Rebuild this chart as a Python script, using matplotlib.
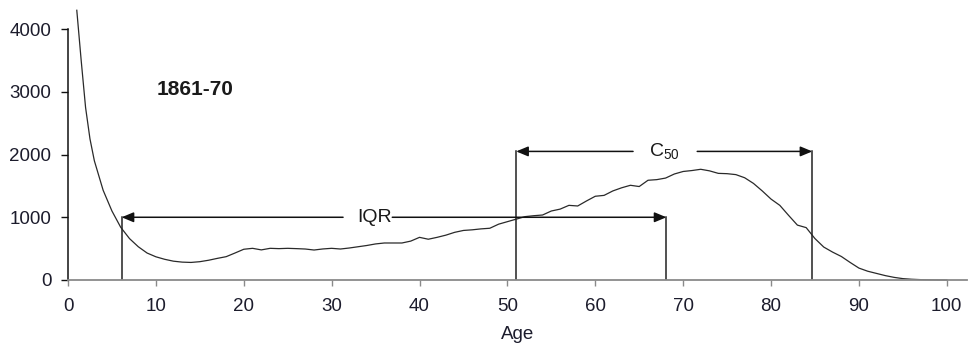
import matplotlib
matplotlib.use("Agg")
import matplotlib.pyplot as plt

plt.rcParams['font.family'] = ['Liberation Sans', 'DejaVu Sans']
plt.rcParams['mathtext.default'] = 'regular'

# Distribution of deaths by age, 1861-70
ages = [1, 1.5, 2, 2.5, 3, 4, 5, 6, 7, 8, 9, 10, 11, 12, 13, 14, 15, 16, 17, 18,
        19, 20, 21, 22, 23, 24, 25, 26, 27, 28, 29, 30, 31, 32, 33, 34, 35, 36,
        37, 38, 39, 40, 41, 42, 43, 44, 45, 46, 47, 48, 49, 50, 51, 52, 53, 54,
        55, 56, 57, 58, 59, 60, 61, 62, 63, 64, 65, 66, 67, 68, 69, 70, 71, 72,
        73, 74, 75, 76, 77, 78, 79, 80, 81, 82, 83, 84, 85, 86, 87, 88, 89, 90,
        91, 92, 93, 94, 95, 96, 97, 98, 99, 100]
deaths = [4300, 3500, 2750, 2250, 1900, 1430, 1100, 840, 660, 530, 430, 370, 330,
          300, 285, 280, 292, 315, 345, 372, 430, 490, 505, 480, 505, 500, 505,
          500, 494, 478, 495, 505, 494, 510, 530, 550, 575, 590, 590, 590, 620,
          680, 650, 680, 715, 760, 790, 800, 815, 825, 890, 930, 970, 1010, 1025,
          1036, 1100, 1130, 1190, 1180, 1260, 1335, 1349, 1420, 1470, 1510, 1490,
          1590, 1600, 1625, 1690, 1730, 1745, 1765, 1740, 1700, 1695, 1680, 1630,
          1540, 1420, 1290, 1190, 1030, 875, 835, 660, 525, 445, 375, 280, 190,
          140, 105, 70, 42, 22, 12, 6, 3, 1, 0]

period_label = "1861-70"
x_ticks = [0, 10, 20, 30, 40, 50, 60, 70, 80, 90, 100]
y_ticks = [0, 1000, 2000, 3000, 4000]

# Interquartile range and C50 bounds (ages) with their bracket heights
iqr_lo, iqr_hi, iqr_level = 6.1, 68.1, 1000
c50_lo, c50_hi, c50_level = 51.0, 84.7, 2050

fig = plt.figure(figsize=(9.69, 3.46), dpi=100)
ax = fig.add_axes([68 / 969, 66 / 346, 899 / 969, 276 / 346])

ax.plot(ages, deaths, color='#2a2a2a', lw=0.9, clip_on=False)

ax.set_xlim(0, 102.3)
ax.set_ylim(0, 4400)
ax.set_xticks(x_ticks)
ax.set_yticks(y_ticks)

for s in ('top', 'right'):
    ax.spines[s].set_visible(False)
ax.spines['left'].set_bounds(0, 4000)
ax.spines['left'].set_color('#111111')
ax.spines['left'].set_linewidth(1.1)
ax.spines['bottom'].set_color('#8a8a8a')
ax.spines['bottom'].set_linewidth(1.3)

label_color = '#1c1c2c'
ax.tick_params(axis='x', direction='out', length=4, width=1, color='#8a8a8a',
               labelsize=13.5, labelcolor=label_color, pad=9)
ax.tick_params(axis='y', direction='out', length=5, width=1, color='#111111',
               labelsize=13.5, labelcolor=label_color, pad=7)
ax.set_xlabel('Age', fontsize=13.5, color=label_color, labelpad=8)

ax.text(14.45, 3030, period_label, fontsize=15, fontweight='bold',
        color='#1a1a1a', ha='center', va='center')

line_kw = dict(color='#222222', lw=1.1)
arrow_kw = dict(arrowstyle='-|>,head_length=0.6,head_width=0.25',
                color='#111111', lw=1.1, shrinkA=0, shrinkB=0,
                mutation_scale=12)


def bracket(lo, hi, level, label, text_x, gap_lo, gap_hi):
    # vertical legs
    ax.plot([lo, lo], [0, level], **line_kw)
    ax.plot([hi, hi], [0, level], **line_kw)
    # arrows running out from the label to each leg
    ax.annotate('', xy=(lo, level), xytext=(gap_lo, level), arrowprops=arrow_kw)
    ax.annotate('', xy=(hi, level), xytext=(gap_hi, level), arrowprops=arrow_kw)
    ax.text(text_x, level, label, fontsize=14, color='#1a1a1a',
            ha='center', va='center')


bracket(iqr_lo, iqr_hi, iqr_level, 'IQR', 34.9, 31.3, 36.9)
bracket(c50_lo, c50_hi, c50_level, 'C$_{50}$', 67.9, 64.3, 71.6)

fig.savefig('out.png', dpi=100)
